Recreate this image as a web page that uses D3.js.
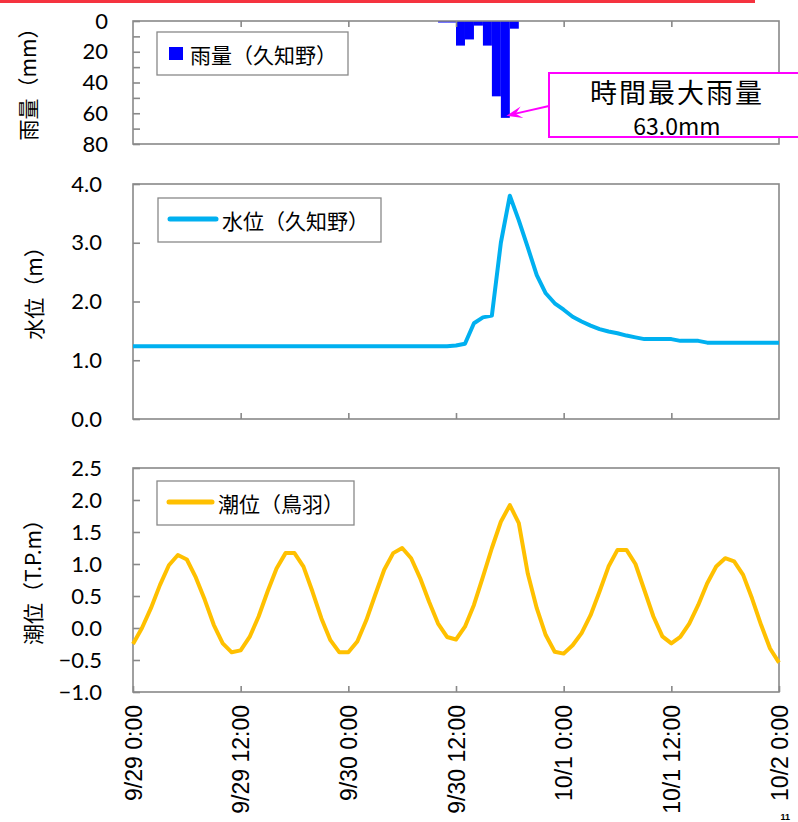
<!DOCTYPE html>
<html><head><meta charset="utf-8">
<script src="https://cdn.jsdelivr.net/npm/d3@7"></script>
<style>
html,body{margin:0;padding:0;background:#fff;overflow:hidden}
svg{display:block}
</style></head>
<body>
<script>
// ---- DATA ----
const timeLabels = ["9/29 0:00","9/29 12:00","9/30 0:00","9/30 12:00","10/1 0:00","10/1 12:00","10/2 0:00"];
const timeTickHours = [0,12,24,36,48,60,72];

// hourly rainfall (mm): hour index (start of hour) and value
const rainHours  = [34,35,36,37,38,39,40,41,42];
const rainValues = [1,1,16,12,3,16,49,63,5];

// water level 久知野 (m), hourly 0..72
const waterLevel = [
 1.24,1.24,1.24,1.24,1.24,1.24,1.24,1.24,1.24,1.24,1.24,1.24,
 1.24,1.24,1.24,1.24,1.24,1.24,1.24,1.24,1.24,1.24,1.24,1.24,
 1.24,1.24,1.24,1.24,1.24,1.24,1.24,1.24,1.24,1.24,1.24,1.24,
 1.25,1.28,1.63,1.73,1.76,3.00,3.80,3.38,2.92,2.45,2.14,1.97,
 1.86,1.74,1.66,1.59,1.53,1.49,1.46,1.42,1.39,1.36,1.36,1.36,
 1.36,1.33,1.33,1.33,1.30,1.30,1.30,1.30,1.30,1.30,1.30,1.30,1.30
];

// tide level 鳥羽 (T.P.m), hourly 0..72
const tideLevel = [
 -0.25,0.00,0.31,0.67,0.98,1.14,1.07,0.79,0.44,0.05,-0.24,-0.38,
 -0.35,-0.14,0.18,0.57,0.93,1.17,1.17,0.96,0.57,0.15,-0.19,-0.38,
 -0.38,-0.21,0.12,0.52,0.91,1.17,1.25,1.09,0.78,0.41,0.07,-0.14,
 -0.18,0.02,0.36,0.80,1.25,1.66,1.92,1.64,0.85,0.31,-0.11,-0.37,
 -0.40,-0.27,-0.08,0.20,0.57,0.96,1.22,1.22,1.00,0.59,0.18,-0.13,
 -0.24,-0.14,0.07,0.36,0.70,0.96,1.09,1.04,0.83,0.46,0.05,-0.32,-0.54
];

const rainTicks = [0,20,40,60,80];
const rainMinorTicks = [10,30,50,70];
const waterTicks = [0,1,2,3,4];
const tideTicks = [-1.0,-0.5,0,0.5,1.0,1.5,2.0,2.5];

const rainLegend = "雨量（久知野）";
const waterLegend = "水位（久知野）";
const tideLegend = "潮位（鳥羽）";
const rainTitle = "雨量（mm）";
const waterTitle = "水位（m）";
const tideTitle = "潮位（T.P.m）";
const annoTitle = "時間最大雨量";
const annoValue = "63.0mm";
const pageNumber = "11";

// ---- DRAW ----
const W = 798, H = 822;
const svg = d3.select("body").append("svg").attr("width", W).attr("height", H);
const CJK = "'Noto Sans CJK JP','Noto Sans',sans-serif";
const NUM = "Lato,'Noto Sans',sans-serif";
const BORDER = "#898989";

// top red bar
svg.append("rect").attr("x",0).attr("y",0).attr("width",755).attr("height",3).attr("fill","#f5333f");

const x = d3.scaleLinear().domain([0,72]).range([133,779]);

function frame(y0,y1){
  svg.append("rect").attr("x",x(0)).attr("y",y0).attr("width",x(72)-x(0)).attr("height",y1-y0)
    .attr("fill","none").attr("stroke",BORDER).attr("stroke-width",1.6);
}
function styleAxis(g){
  g.select(".domain").remove();
  g.selectAll(".tick line").attr("stroke",BORDER).attr("stroke-width",1.6);
  g.selectAll(".tick text").attr("fill","#000").style("font-family",NUM).style("font-size","22px");
}

// ===== Rain panel =====
const yR = d3.scaleLinear().domain([0,80]).range([21,144]);
svg.append("g").selectAll("rect").data(rainHours).join("rect")
  .attr("x", d=>x(d)).attr("width", d=>x(d+1)-x(d))
  .attr("y", yR(0)).attr("height", (d,i)=>yR(rainValues[i])-yR(0))
  .attr("fill","#0000ff");
frame(21,144);
svg.append("g").attr("transform",`translate(${x(0)},0)`)
  .call(d3.axisLeft(yR).tickValues(rainTicks).tickSize(-7).tickPadding(25).tickFormat(d3.format("d")))
  .call(styleAxis);
svg.append("g").attr("transform",`translate(${x(0)},0)`)
  .call(d3.axisLeft(yR).tickValues(rainMinorTicks).tickSize(-7).tickFormat(""))
  .call(styleAxis);
svg.append("g").attr("transform",`translate(0,${yR(0)})`)
  .call(d3.axisTop(x).tickValues(timeTickHours.slice(1,6)).tickSize(-6).tickFormat(""))
  .call(styleAxis);
// legend
svg.append("rect").attr("x",157).attr("y",32).attr("width",191).attr("height",43)
  .attr("fill","#fff").attr("stroke",BORDER).attr("stroke-width",1.3);
svg.append("rect").attr("x",169).attr("y",47).attr("width",14).attr("height",13).attr("fill","#0000ff");
svg.append("text").attr("x",190).attr("y",54).attr("dominant-baseline","central")
  .style("font-family",CJK).style("font-size","21px").attr("fill","#000").text(rainLegend);
// title
svg.append("text").attr("transform","translate(27,79) rotate(-90)").attr("text-anchor","middle")
  .attr("dominant-baseline","central").style("font-family",CJK).style("font-size","21px").text(rainTitle);
// annotation
const peakIdx = rainValues.indexOf(d3.max(rainValues));
const tipX = (x(rainHours[peakIdx])+x(rainHours[peakIdx]+1))/2 + 1;
const tipY = yR(rainValues[peakIdx]) - 2;
svg.append("rect").attr("x",549).attr("y",73).attr("width",260).attr("height",64)
  .attr("fill","#fff").attr("stroke","#ff00ff").attr("stroke-width",2);
svg.append("line").attr("x1",549).attr("y1",106).attr("x2",tipX+8).attr("y2",tipY-2)
  .attr("stroke","#ff00ff").attr("stroke-width",2);
{
  const ang = Math.atan2(106-tipY, 549-tipX);
  const L = 16, Wd = 6;
  const bx = tipX + L*Math.cos(ang), by = tipY + L*Math.sin(ang);
  const px = -Math.sin(ang)*Wd, py = Math.cos(ang)*Wd;
  const nx = tipX + (L*0.6)*Math.cos(ang), ny = tipY + (L*0.6)*Math.sin(ang);
  svg.append("path").attr("d",`M${tipX},${tipY}L${bx+px},${by+py}L${nx},${ny}L${bx-px},${by-py}Z`)
    .attr("fill","#ff00ff");
}
svg.append("text").attr("x",677).attr("y",91).attr("text-anchor","middle").attr("dominant-baseline","central")
  .style("font-family",CJK).style("font-size","27px").style("letter-spacing","2px").text(annoTitle);
svg.append("text").attr("x",677).attr("y",125).attr("text-anchor","middle").attr("dominant-baseline","central")
  .style("font-family",CJK).style("font-size","23px").text(annoValue);

// ===== Water level panel =====
const yW = d3.scaleLinear().domain([0,4]).range([419,184]);
frame(184,419);
svg.append("g").attr("transform",`translate(${x(0)},0)`)
  .call(d3.axisLeft(yW).tickValues(waterTicks).tickSize(-7).tickPadding(31).tickFormat(d3.format(".1f")))
  .call(styleAxis);
svg.append("g").attr("transform",`translate(0,${yW(0)})`)
  .call(d3.axisBottom(x).tickValues(timeTickHours.slice(1,6)).tickSize(-6).tickFormat(""))
  .call(styleAxis);
svg.append("path").datum(waterLevel)
  .attr("d", d3.line().x((d,i)=>x(i)).y(d=>yW(d)))
  .attr("fill","none").attr("stroke","#00b0f0").attr("stroke-width",4).attr("stroke-linejoin","round");
svg.append("rect").attr("x",158).attr("y",198).attr("width",223).attr("height",44)
  .attr("fill","#fff").attr("stroke",BORDER).attr("stroke-width",1.3);
svg.append("line").attr("x1",170).attr("x2",216).attr("y1",219).attr("y2",219)
  .attr("stroke","#00b0f0").attr("stroke-width",5).attr("stroke-linecap","round");
svg.append("text").attr("x",222).attr("y",220).attr("dominant-baseline","central")
  .style("font-family",CJK).style("font-size","21px").text(waterLegend);
svg.append("text").attr("transform","translate(33,288) rotate(-90)").attr("text-anchor","middle")
  .attr("dominant-baseline","central").style("font-family",CJK).style("font-size","21px").text(waterTitle);

// ===== Tide panel =====
const yT = d3.scaleLinear().domain([-1,2.5]).range([692,468]);
frame(468,692);
svg.append("g").attr("transform",`translate(${x(0)},0)`)
  .call(d3.axisLeft(yT).tickValues(tideTicks).tickSize(-7).tickPadding(31).tickFormat(d3.format(".1f")))
  .call(styleAxis);
const xa = svg.append("g").attr("transform",`translate(0,${yT(-1)})`)
  .call(d3.axisBottom(x).tickValues(timeTickHours).tickSize(-6).tickFormat((d,i)=>timeLabels[i]))
  .call(styleAxis);
xa.selectAll(".tick text")
  .attr("transform","rotate(-90)").attr("x",-13).attr("y",0).attr("dy","0.35em")
  .attr("text-anchor","end").style("font-family","'Liberation Sans',Arial,sans-serif").style("font-size","23px");
svg.append("path").datum(tideLevel)
  .attr("d", d3.line().x((d,i)=>x(i)).y(d=>yT(d)))
  .attr("fill","none").attr("stroke","#ffc000").attr("stroke-width",4).attr("stroke-linejoin","round");
svg.append("rect").attr("x",157).attr("y",481).attr("width",197).attr("height",44)
  .attr("fill","#fff").attr("stroke",BORDER).attr("stroke-width",1.3);
svg.append("line").attr("x1",169).attr("x2",212).attr("y1",502).attr("y2",502)
  .attr("stroke","#ffc000").attr("stroke-width",5).attr("stroke-linecap","round");
svg.append("text").attr("x",218).attr("y",503).attr("dominant-baseline","central")
  .style("font-family",CJK).style("font-size","21px").text(tideLegend);
svg.append("text").attr("transform","translate(32,577) rotate(-90)").attr("text-anchor","middle")
  .attr("dominant-baseline","central").style("font-family",CJK).style("font-size","21px").text(tideTitle);

// page number (small, at the bottom-right corner)
svg.append("text").attr("x",790).attr("y",820).attr("text-anchor","end")
  .style("font-family","'Liberation Sans',Arial,sans-serif").style("font-size","9px").style("font-weight","bold").text(pageNumber);
</script>
</body></html>
